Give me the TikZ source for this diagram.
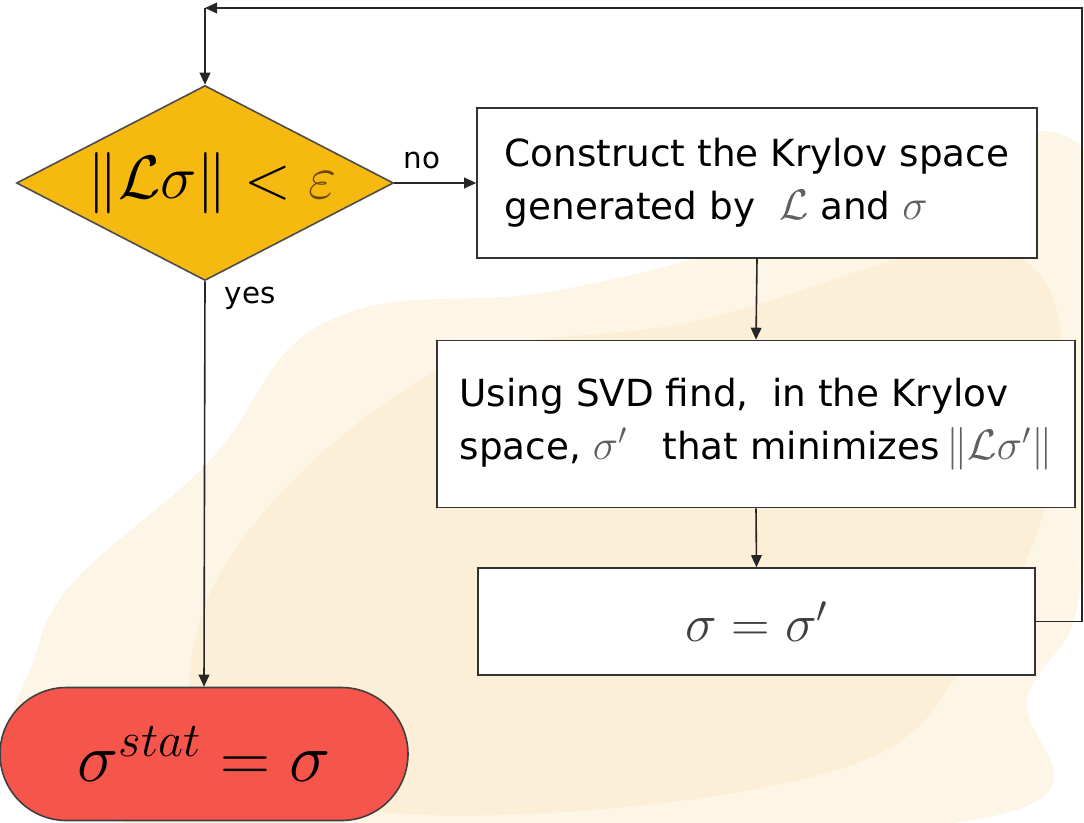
\RequirePackage{fix-cm}
\documentclass[tikz,border=0pt]{standalone}
\usepackage{fontspec}
\setmainfont{DejaVu Sans}
\usetikzlibrary{shapes.geometric,shapes.misc,arrows.meta}
\definecolor{gold}{RGB}{245,185,15}
\definecolor{redfill}{RGB}{246,85,76}
\definecolor{blob}{RGB}{248,222,172}
\definecolor{mgray}{RGB}{95,95,95}
\definecolor{brownish}{RGB}{105,70,10}
\newcommand{\bm}[1]{{\fontsize{32}{40}\selectfont\textcolor{mgray}{$#1$}}}
\begin{document}
\begin{tikzpicture}[x=0.75pt,y=-0.75pt,
  line/.style={line width=1.2pt,draw=black!85},
  arr/.style={line,-{Triangle[length=9pt,width=8pt]}},
  boxnode/.style={draw=black!80,line width=1.2pt,fill=white,rectangle,inner sep=0pt,
    font=\fontsize{28}{40}\selectfont,align=left},
  lbl/.style={font=\fontsize{22}{26}\selectfont,inner sep=0pt}]
\useasboundingbox (0,0) rectangle (1084,822);
% background blob
\fill[blob,opacity=0.3] plot[smooth cycle,tension=0.7] coordinates
  {(330,320) (560,290) (800,230) (1084,150) (1084,560) (1030,690) (960,822) (120,822) (40,640) (210,460)};
\fill[blob,opacity=0.25] plot[smooth cycle,tension=0.7] coordinates
  {(420,380) (700,320) (1000,250) (1060,420) (980,640) (800,780) (300,800) (200,620)};

% nodes
\node[diamond,draw=black!70,line width=1.2pt,fill=gold,minimum width=282.75pt,
      minimum height=146.25pt,inner sep=0pt] (d) at (205,183) {};
\node[inner sep=0pt,font=\fontsize{46}{50}\selectfont] (dt) at (212,183)
  {$\|\mathcal{L}\sigma\| < \textcolor{brownish}{\varepsilon}$};

\node[boxnode,minimum width=420pt,minimum height=112.5pt] (b1) at (757,183)
  {Construct the Krylov space\\generated by \ \bm{\mathcal{L}} and \bm{\sigma}};

\node[boxnode,minimum width=478.5pt,minimum height=125.25pt] (b2) at (756,424)
  {Using SVD find, \ in the Krylov\\space, \bm{\sigma'}\ \ \ that minimizes\,\bm{\|\mathcal{L}\sigma'\|}};

\node[boxnode,minimum width=417.75pt,minimum height=80.25pt,
      font=\fontsize{40}{44}\selectfont] (b3) at (756.5,621.5)
  {\textcolor{black!75}{$\sigma=\sigma'$}};

\node[rounded rectangle,draw=black!75,line width=1.2pt,fill=redfill,
      minimum width=306pt,minimum height=99.75pt,inner sep=0pt,
      font=\fontsize{52}{56}\selectfont] (o) at (204,754)
  {$\sigma^{stat}=\sigma$};

\node[lbl] (no) at (422,160) {no};
\node[lbl] (yes) at (250,298) {yes};

% connectors
\coordinate (tr) at (1082,8);
\coordinate (tl) at (205,8);
\draw[arr] (d.east) -- (b1.west |- d.east);
\draw[arr] (b1.south) -- (b2.north);
\draw[arr] (b2.south) -- (b3.north);
\draw[arr] (d.south) -- (o.north);
\draw[arr] (b3.east) -| (tr) -- (tl);
\draw[arr] (tl) -- (d.north);
\end{tikzpicture}
\end{document}
